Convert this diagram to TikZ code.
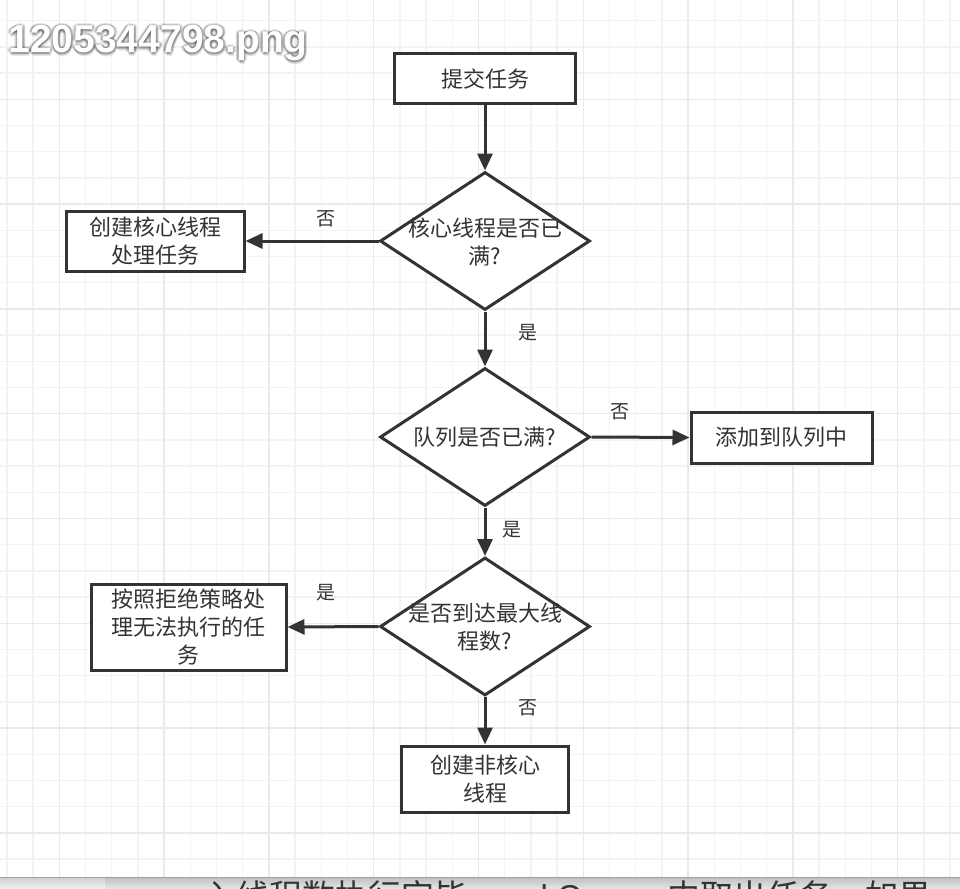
\documentclass[tikz,border=0pt]{standalone}
\usepackage{fontspec}
\newfontfamily\cjk{Noto Sans CJK SC}
\newfontfamily\wm{Liberation Sans Bold}
\newfontfamily\barlatin{Liberation Sans}
\usetikzlibrary{shapes.geometric,arrows.meta}
\definecolor{ink}{HTML}{333333}
\definecolor{gridminor}{HTML}{F3F3F3}
\definecolor{gridmajor}{HTML}{EAEAEA}
\begin{document}
\begin{tikzpicture}[x=1pt,y=-1pt,
  box/.style={draw=ink, line width=3pt, fill=white, inner sep=0pt, font=\cjk\fontsize{22}{28}\selectfont, text=ink, align=center},
  dia/.style={diamond, draw=ink, line width=3pt, fill=white, inner sep=0pt, aspect=1.5},
  txt/.style={font=\cjk\fontsize{22}{28}\selectfont, text=ink, align=center},
  lbl/.style={font=\cjk\fontsize{19}{19}\selectfont, text=ink},
  arr/.style={draw=ink, line width=3pt, -{Triangle[length=17pt,width=15pt]}},
  wmtext/.style={anchor=base west, font=\wm\fontsize{39}{39}\selectfont},
  bartext/.style={anchor=base west, font=\cjk\fontsize{33}{33}\selectfont, text=ink}]
\useasboundingbox (0,0) rectangle (960,888);
\fill[white] (0,0) rectangle (960,888);
% grid
\foreach \i in {0,...,36} \draw[gridminor, line width=1.5pt] ({6.9+26.2*\i},0) -- ({6.9+26.2*\i},877);
\foreach \j in {0,...,32} \draw[gridminor, line width=1.5pt] (0,{20.7+26.2*\j}) -- (960,{20.7+26.2*\j});
\foreach \i in {0,...,8} \draw[gridmajor, line width=1.5pt] ({59.3+104.8*\i},0) -- ({59.3+104.8*\i},877);
\foreach \j in {0,...,7} \draw[gridmajor, line width=1.5pt] (0,{99.3+104.8*\j}) -- (960,{99.3+104.8*\j});
% watermark
\foreach \dx/\dy in {-2/0,2/0,0/-2,0/2,-1.5/-1.5,1.5/1.5,-1.5/1.5,1.5/-1.5,0/3,1/3.5,-3/0,3/0}
  \node[wmtext, text=black, opacity=0.09] at ({5+\dx},{53+\dy}) {1205344798.png};
\node[wmtext, text=white] (wm) at (5,53) {1205344798.png};
% shapes
\node[box, minimum width=181pt, minimum height=50pt] (b1) at (485,79) {提交任务};
\node[dia, minimum width=210pt, minimum height=138pt] (d1) at (485,241) {};
\node[txt] (t1) at (485,242) {核心线程是否已\\满?};
\node[box, minimum width=178pt, minimum height=60pt] (bl) at (155,241) {创建核心线程\\处理任务};
\node[dia, minimum width=210pt, minimum height=138pt] (d2) at (485,437) {};
\node[txt] (t2) at (485,437) {队列是否已满?};
\node[box, minimum width=181pt, minimum height=51pt] (bq) at (781.5,437.5) {添加到队列中};
\node[dia, minimum width=210pt, minimum height=138pt] (d3) at (485,626.5) {};
\node[txt] (t3) at (485,627) {是否到达最大线\\程数?};
\node[box, minimum width=195pt, minimum height=86pt] (br) at (188.5,627) {按照拒绝策略处\\理无法执行的任\\务};
\node[box, minimum width=167pt, minimum height=66pt] (bn) at (485,779) {创建非核心\\线程};
% connectors
\draw[arr] (b1.south) -- (d1.north);
\draw[arr] (d1.south) -- (d2.north);
\draw[arr] (d2.south) -- (d3.north);
\draw[arr] (d3.south) -- (bn.north);
\draw[arr] (d1.west) -- (bl.east);
\draw[arr] (d2.east) -- (bq.west);
\draw[arr] (d3.west) -- (br.east);
% labels
\node[lbl] (l1) at (326,219) {否};
\node[lbl] (l2) at (528,333) {是};
\node[lbl] (l3) at (620,412) {否};
\node[lbl] (l4) at (512,530) {是};
\node[lbl] (l5) at (326,593) {是};
\node[lbl] (l6) at (528,708) {否};
% bottom cut-off strip
\shade[top color=gray!50, bottom color=gray!22] (0,877) rectangle (960,888);
\shade[top color=gray!35, bottom color=gray!12] (0,878) rectangle (105,888);
\draw[gray!75, line width=1pt] (0,877.5) -- (960,877.5);
\begin{scope}
\clip (0,878) rectangle (960,888);
\node[bartext] (bt1) at (200,908) {入线程数执行完毕};
\node[bartext, font=\barlatin\fontsize{33}{33}\selectfont] (bt2) at (484,908) {workQueue};
\node[bartext] (bt3) at (664,908) {中取出任务，如果};
\end{scope}
\end{tikzpicture}
\end{document}
